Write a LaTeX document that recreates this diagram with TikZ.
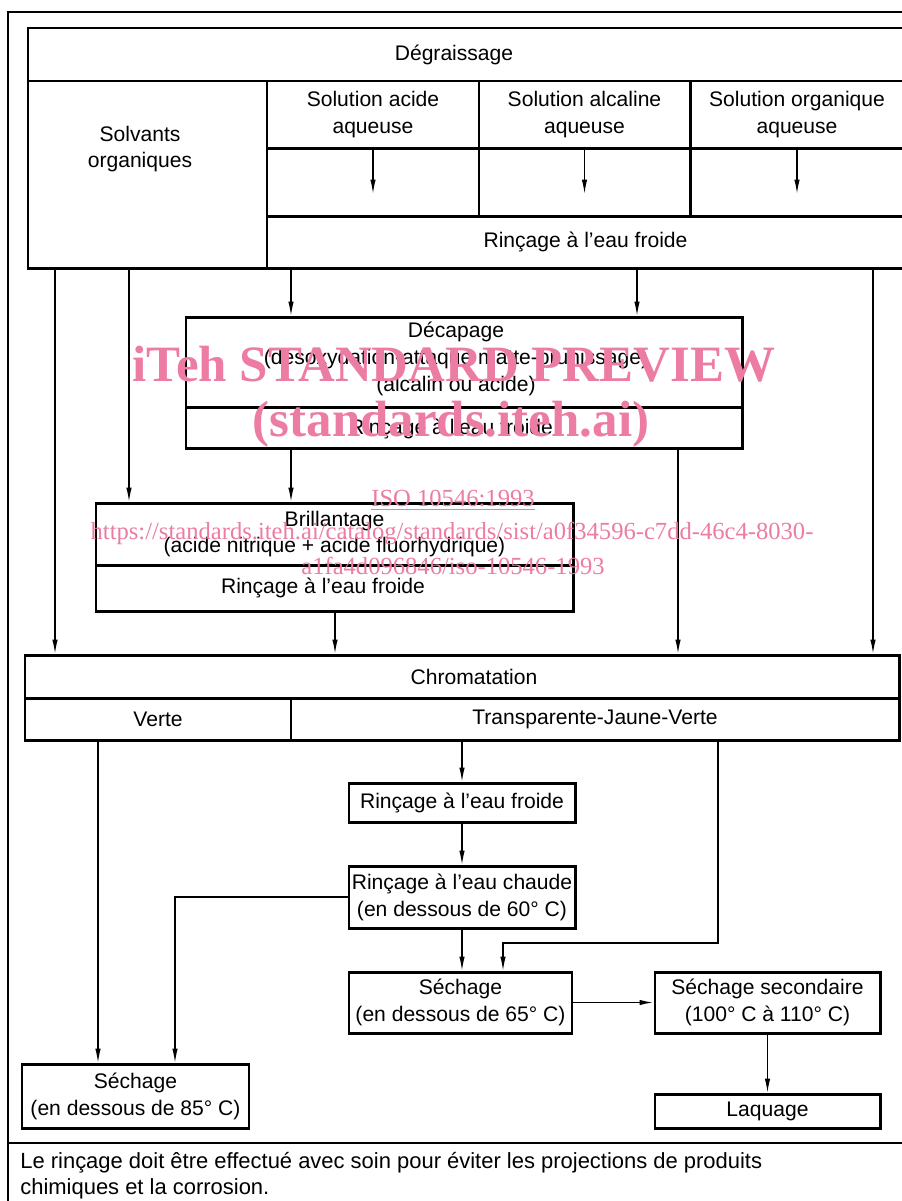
\documentclass[tikz,border=0pt]{standalone}
\usepackage{fontspec}
\setmainfont{Liberation Sans}
\newfontfamily\filigranefont{Liberation Serif}
\usetikzlibrary{arrows.meta}
\definecolor{rosefil}{RGB}{236,124,164}
\tikzset{
  cadre/.style={draw, line width=1.7pt, inner sep=0pt, align=center},
  texte/.style={inner sep=0pt, align=center},
  fleche/.style={-{Latex[length=2.8mm,width=1.1mm]}, line width=0.6pt},
  filig/.style={text=rosefil, inner sep=0pt},
}
% boite : nom, x1, y1, x2, y2, texte (coordonnees en pixels)
\newcommand\boite[6]{%
  \pgfmathsetmacro\bw{(#4-#2)*0.02}%
  \pgfmathsetmacro\bh{(#5-#3)*0.02}%
  \node[cadre, minimum width=\bw cm, minimum height=\bh cm] (#1)
    at ({(#2+#4)/2},{(#3+#5)/2}) {#6};}

\begin{document}
\begin{tikzpicture}[x=0.02cm, y=-0.02cm, font=\fontsize{12}{15.3}\selectfont]
\useasboundingbox (0,0) rectangle (902,1201);
\clip (0,0) rectangle (902,1201);

% cadre general
\draw[line width=1.2pt] (910,12) -- (8,12) -- (8,1210);
\draw[line width=1.2pt] (8,1143) -- (910,1143);

% degraissage
\boite{deg}{28}{28}{910}{81}{}
\node[texte] (degtxt) at (454,55) {Dégraissage};
\boite{solv}{28}{81}{267}{268}{}
\node[texte] (solvtxt) at (140,149) {Solvants\\organiques};
\boite{acide}{267}{81}{479}{148}{Solution acide\\aqueuse}
\boite{alca}{479}{81}{690}{148}{Solution alcaline\\aqueuse}
\boite{orga}{690}{81}{904}{148}{Solution organique\\aqueuse}
\boite{acideM}{267}{148}{479}{216}{}
\boite{alcaM}{479}{148}{690}{216}{}
\boite{orgaM}{690}{148}{904}{216}{}
\boite{rdeg}{267}{216}{904}{268}{Rinçage à l’eau froide}
\draw[fleche] (acideM.north) -- ++(0,47);
\draw[fleche] (alcaM.north) -- ++(0,47);
\draw[fleche] (orgaM.north) -- ++(0,47);

% decapage
\boite{decap}{186}{317}{742}{407}{}
\node[texte] (decaptxt) at (456,359)
  {Décapage\\(désoxydation-attaque matte-brunissage)\\(alcalin ou acide)};
\boite{rdecap}{186}{407}{742}{448}{}
\node[texte] (rdecaptxt) at (451,429) {Rinçage à l’eau froide};

% brillantage
\boite{bril}{96}{503}{573}{565}{Brillantage\\(acide nitrique + acide fluorhydrique)}
\boite{rbril}{96}{565}{573}{611}{}
\node[texte] (rbriltxt) at (323,588) {Rinçage à l’eau froide};

% chromatation
\boite{chrom}{25}{655}{899}{698}{}
\node[texte] (chromtxt) at (474,677) {Chromatation};
\boite{verte}{25}{698}{291}{740}{Verte}
\boite{transp}{291}{698}{899}{740}{Transparente-Jaune-Verte}

% rincages et sechages
\boite{rfroide}{349}{783}{575}{822}{Rinçage à l’eau froide}
\boite{chaude}{349}{866}{575}{928}{Rinçage à l’eau chaude\\(en dessous de 60° C)}
\boite{sech65}{349}{972}{572}{1033}{Séchage\\(en dessous de 65° C)}
\boite{sec2}{655}{972}{880}{1033}{Séchage secondaire\\(100° C à 110° C)}
\boite{laq}{655}{1094}{880}{1128}{Laquage}
\boite{sech85}{22}{1064}{249}{1128}{Séchage\\(en dessous de 85° C)}

% abscisses des fleches
\coordinate (xa) at (55,0);
\coordinate (xb) at (129,0);
\coordinate (xc) at (291,0);
\coordinate (xd) at (637,0);
\coordinate (xe) at (873,0);
\coordinate (xf) at (678,0);
\coordinate (xg) at (335,0);
\coordinate (xh) at (98,0);
\coordinate (xj) at (718,0);
\coordinate (xl) at (175,0);
\coordinate (coude) at (503,943);

\draw[fleche] (xa |- solv.south) -- (xa |- chrom.north);
\draw[fleche] (xb |- solv.south) -- (xb |- bril.north);
\draw[fleche] (xc |- rdeg.south) -- (xc |- decap.north);
\draw[fleche] (xd |- rdeg.south) -- (xd |- decap.north);
\draw[fleche] (xe |- rdeg.south) -- (xe |- chrom.north);
\draw[fleche] (xc |- rdecap.south) -- (xc |- bril.north);
\draw[fleche] (xf |- rdecap.south) -- (xf |- chrom.north);
\draw[fleche] (xg |- rbril.south) -- (xg |- chrom.north);
\draw[fleche] (xh |- verte.south) -- (xh |- sech85.north);
\draw[fleche] (rfroide.north |- transp.south) -- (rfroide.north);
\draw[fleche] (rfroide.south) -- (rfroide.south |- chaude.north);
\draw[fleche] (chaude.south) -- (chaude.south |- sech65.north);
\draw[fleche] (xj |- transp.south) |- (coude) -- (coude |- sech65.north);
\draw[fleche] (chaude.west) -| (xl |- sech85.north);
\draw[fleche, line width=0.9pt] (sech65.east) -- (sec2.west);
\draw[fleche] (sec2.south) -- (laq.north);

% note
\node[inner sep=0pt, anchor=base west, font=\fontsize{12.5}{15}\selectfont] (note1) at (20,1168)
  {Le rinçage doit être effectué avec soin pour éviter les projections de produits};
\node[inner sep=0pt, anchor=base west, font=\fontsize{12.5}{15}\selectfont] (note2) at (20,1194)
  {chimiques et la corrosion.};

% filigrane
\node[filig, font=\filigranefont\bfseries\fontsize{29}{29}\selectfont] (wm1) at (454,364) {iTeh STANDARD PREVIEW};
\node[filig, font=\filigranefont\bfseries\fontsize{29}{29}\selectfont] (wm2) at (451,424) {(standards.iteh.ai)};
\node[filig, font=\filigranefont\fontsize{14}{14}\selectfont] (wm3) at (453,500) {\underline{ISO 10546:1993}};
\node[filig, font=\filigranefont\fontsize{14}{14}\selectfont] (wm4) at (452,533)
  {https://standards.iteh.ai/catalog/standards/sist/a0f34596-c7dd-46c4-8030-};
\node[filig, font=\filigranefont\fontsize{14}{14}\selectfont] (wm5) at (453,566) {a1fa4d096846/iso-10546-1993};
\end{tikzpicture}
\end{document}
